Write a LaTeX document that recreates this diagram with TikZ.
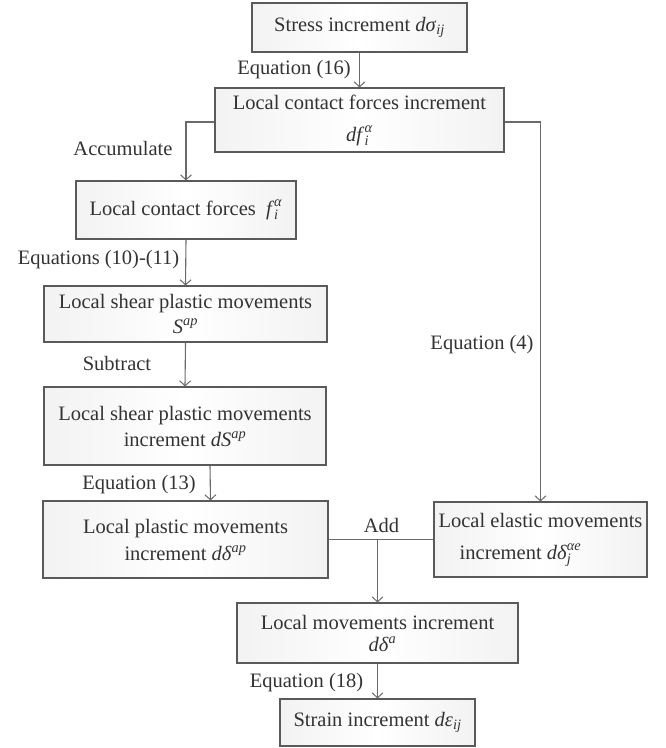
\documentclass[tikz,border=0pt]{standalone}
\usepackage{fontspec}
\setmainfont{Liberation Serif}
\usetikzlibrary{arrows.meta}
\definecolor{boxline}{HTML}{5A5A5A}
\definecolor{conn}{HTML}{6A6A6A}
\definecolor{txt}{HTML}{333333}
\newcommand\mi[1]{\textit{#1}}
\newcommand\supsub[2]{\setbox0\hbox{\raisebox{1pt}{\textsuperscript{#1}}}\setbox2\hbox{\raisebox{-1pt}{\textsubscript{#2}}}\ifdim\wd0>\wd2 \rlap{\box2}\box0\else\rlap{\box0}\box2\fi}
\tikzset{
  stepbox/.style={draw=boxline, line width=1.1pt, inner sep=0pt, align=center,
    left color=gray!10, right color=gray!10, middle color=white, text=txt,
    font=\fontsize{20.5}{26}\selectfont},
  conline/.style={draw=conn, line width=1.1pt},
  arr/.style={conline, -{Straight Barb[length=5pt,width=11pt,line width=1pt]}},
  lbl/.style={text=txt, inner sep=0pt, font=\fontsize{20.5}{26}\selectfont}
}
\begin{document}
\begin{tikzpicture}[x=1pt,y=-1pt]
\useasboundingbox (0,0) rectangle (666,748);
% boxes
\node[stepbox, minimum width=215pt, minimum height=49pt] (b1) at (359.5,27.5)
  {Stress increment \mi{dσ}\textsubscript{\mi{ij}}};
\node[stepbox, minimum width=289pt, minimum height=64pt] (b2) at (359.5,120)
  {Local contact forces increment\\[6pt]\mi{df}\supsub{\mi{α}}{\mi{i}}};
\node[stepbox, minimum width=220pt, minimum height=58pt] (b3) at (186,210)
  {Local contact forces\ \ \mi{f}\supsub{\mi{α}}{\mi{i}}};
\node[stepbox, minimum width=283pt, minimum height=56pt] (b4) at (185.5,314)
  {Local shear plastic movements\\[-1pt]\mi{S}\textsuperscript{\mi{ap}}};
\node[stepbox, minimum width=282pt, minimum height=78pt] (b5) at (185,426)
  {Local shear plastic movements\\increment \mi{dS}\textsuperscript{\mi{ap}}};
\node[stepbox, minimum width=285pt, minimum height=77pt] (b6) at (185.5,539.5)
  {Local plastic movements\\[1pt]increment \mi{dδ}\textsuperscript{\mi{ap}}};
\node[stepbox, minimum width=213pt, minimum height=75pt] (b7) at (540.5,539.5)
  {Local elastic movements\\[6pt]increment \mi{dδ}\supsub{\mi{αe}}{\mi{j}}\hspace*{40pt}};
\node[stepbox, minimum width=281pt, minimum height=60pt] (b8) at (377.5,633)
  {Local movements increment\\[-4pt]\hspace*{10pt}\mi{dδ}\textsuperscript{\mi{a}}};
\node[stepbox, minimum width=195pt, minimum height=47pt] (b9) at (377.5,722.5)
  {Strain increment \mi{dε}\textsubscript{\mi{ij}}};
% labels
\node[lbl] (l16) at (294,70) {Equation (16)};
\node[lbl] (lacc) at (123,148) {Accumulate};
\node[lbl] (l1011) at (98.5,260) {Equations (10)-(11)};
\node[lbl] (lsub) at (117,363) {Subtract};
\node[lbl] (l13) at (139,485) {Equation (13)};
\node[lbl] (l4) at (482,345) {Equation (4)};
\node[lbl] (ladd) at (381.5,525) {Add};
\node[lbl] (l18) at (306.5,683) {Equation (18)};
% connectors
\draw[arr] (b1.south) -- (b2.north);
\draw[arr] ([yshift=-2pt]b2.west) -| (b3.north);
\draw[arr] ([yshift=-2pt]b2.east) -| (b7.north);
\draw[arr] (b3.south) -- (b4.north);
\draw[arr] (b4.south) -- (b5.north);
\draw[arr] ([xshift=25pt]b5.south) -- ([xshift=25pt]b6.north);
\draw[conline] (b6.east) -- (b7.west);
\coordinate (j) at (b8.north |- b6.east);
\draw[arr] (j) -- (b8.north);
\draw[arr] (b8.south) -- (b9.north);
\end{tikzpicture}
\end{document}
